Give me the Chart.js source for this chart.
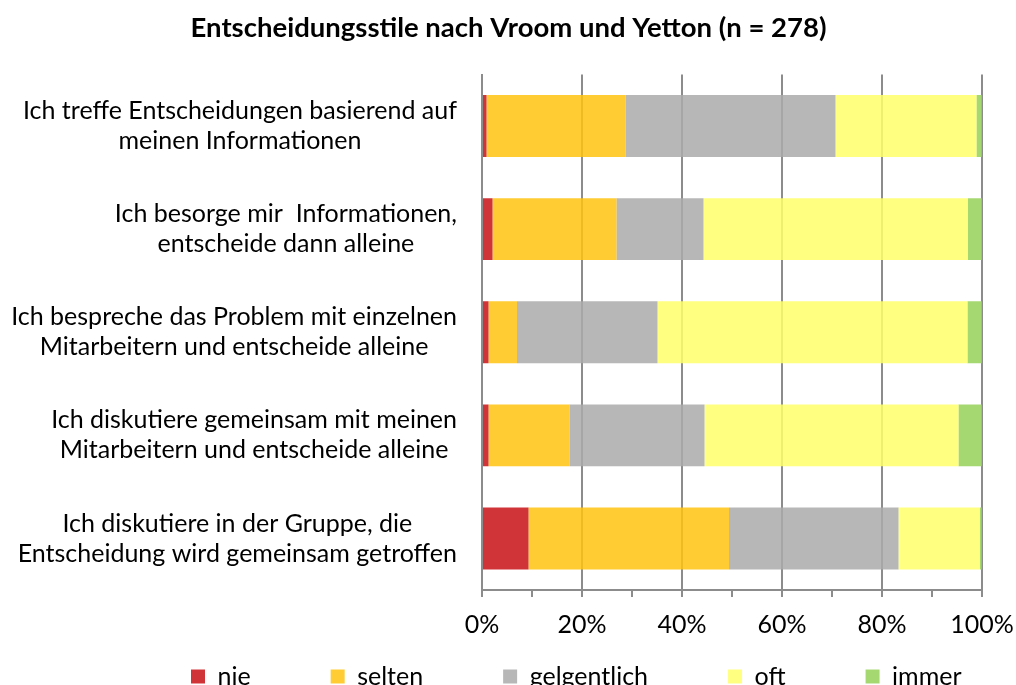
<!DOCTYPE html>
<html>
<head>
<meta charset="utf-8">
<script src="https://cdn.jsdelivr.net/npm/chart.js@4/dist/chart.umd.min.js"></script>
<style>
  html, body { margin: 0; padding: 0; background: #fff; }
  #wrap { width: 1016px; height: 685px; position: relative; }
</style>
</head>
<body>
<div id="wrap"><canvas id="c" width="1016" height="685"></canvas></div>
<script>
// ---- data ----
const categories = [
  ["Ich treffe Entscheidungen basierend auf", "meinen Informationen"],
  ["Ich besorge mir  Informationen,", "entscheide dann alleine"],
  ["Ich bespreche das Problem mit einzelnen", "Mitarbeitern und entscheide alleine"],
  ["Ich diskutiere gemeinsam mit meinen", "Mitarbeitern und entscheide alleine"],
  ["Ich diskutiere in der Gruppe, die", "Entscheidung wird gemeinsam getroffen"]
];
const seriesNames = ["nie", "selten", "gelgentlich", "oft", "immer"];
const nie         = [0.9, 2.1, 1.3, 1.3, 9.3];
const selten      = [27.8, 24.8, 5.7, 16.2, 40.1];
const gelegentlich= [42.0, 17.4, 28.1, 27.0, 33.9];
const oft         = [28.2, 52.9, 62.0, 50.8, 16.3];
const immer       = [1.1, 2.8, 2.9, 4.7, 0.4];
const titleText = "Entscheidungsstile nach Vroom und Yetton (n = 278)";

// ---- styles ----
const colors = ["rgba(200,16,21,0.85)", "rgba(255,195,15,0.85)", "rgba(170,170,170,0.85)", "rgba(255,255,106,0.85)", "rgba(150,209,89,0.85)"];
const FAMILY = "Lato, 'Open Sans', sans-serif";
const mctx = document.createElement('canvas').getContext('2d');
function fitSize(text, target, weight) {
  mctx.font = weight + " 100px " + FAMILY;
  return Math.round(1000 * target / mctx.measureText(text).width) / 10;
}
const labelSize = fitSize("Ich bespreche das Problem mit einzelnen", 445, "normal");
const titleSize = fitSize(titleText, 635, "bold");
const gridColor = "#8c8c8c";

const values = [nie, selten, gelegentlich, oft, immer];
const datasets = seriesNames.map((n, i) => ({
  label: n,
  data: values[i],
  backgroundColor: colors[i],
  borderWidth: 0,
  barPercentage: 0.6,
  categoryPercentage: 1.0
}));

const yLabelPlugin = {
  id: 'yLabels',
  afterDraw(chart) {
    const ys = chart.scales.y;
    const ctx = chart.ctx;
    const right = chart.chartArea.left - 25;
    const lh = 30;
    ctx.save();
    ctx.font = "normal " + labelSize + "px " + FAMILY;
    ctx.fillStyle = "#000";
    ctx.textAlign = "center";
    ctx.textBaseline = "middle";
    chart.data.labels.forEach((lines, i) => {
      const yc = ys.getPixelForValue(i);
      const w = Math.max(...lines.map(l => ctx.measureText(l).width));
      const cx = right - w / 2;
      lines.forEach((l, k) => {
        ctx.fillText(l, cx, yc + (k - (lines.length - 1) / 2) * lh);
      });
    });
    ctx.restore();
  }
};

const placeBoxes = {
  id: 'placeBoxes',
  afterLayout(chart) {
    const lg = chart.legend;
    const pad = lg.options.labels.padding;
    lg.top = 664 - pad;
    lg.left = 191 - pad;
    lg.right = 1400;
    const tb = chart.titleBlock;
    if (tb) { tb.left = 0; tb.right = 1017; }
  }
};

new Chart(document.getElementById('c'), {
  type: 'bar',
  data: { labels: categories, datasets },
  plugins: [yLabelPlugin, placeBoxes],
  options: {
    indexAxis: 'y',
    responsive: false,
    animation: false,
    layout: { padding: { left: 0, right: 34, top: 0, bottom: 0 } },
    plugins: {
      title: {
        display: true,
        text: titleText,
        color: "#000",
        font: { family: FAMILY, size: titleSize, weight: 'bold' },
        padding: { top: 28 - 0.6 * titleSize, bottom: 74.5 - (28 - 0.6 * titleSize) - 1.2 * titleSize }
      },
      legend: {
        position: 'bottom',
        align: 'start',
        maxHeight: 45,
        labels: {
          color: "#000",
          font: { family: FAMILY, size: labelSize },
          boxWidth: 14,
          boxHeight: 14,
          padding: 80
        }
      },
      tooltip: { enabled: false }
    },
    scales: {
      x: {
        type: 'linear',
        stacked: true,
        min: 0,
        max: 100,
        afterFit(s) { s.height = 50; s.paddingRight = 0; s.paddingLeft = 0; },
        ticks: {
          stepSize: 10,
          autoSkip: false,
          maxRotation: 0,
          padding: 13,
          color: "#000",
          font: { family: FAMILY, size: labelSize },
          callback: v => (v % 20 === 0 ? v + '%' : '')
        },
        grid: {
          drawOnChartArea: true,
          color: c => (c.tick && c.tick.value % 20 === 0 ? gridColor : 'rgba(0,0,0,0)'),
          tickColor: gridColor,
          tickLength: 7,
          lineWidth: 2
        },
        border: { display: true, color: gridColor, width: 2 }
      },
      y: {
        stacked: true,
        afterFit(s) { s.width = 482; },
        ticks: { display: false },
        grid: { display: false },
        border: { display: true, color: gridColor, width: 2 }
      }
    }
  }
});
</script>
</body>
</html>
